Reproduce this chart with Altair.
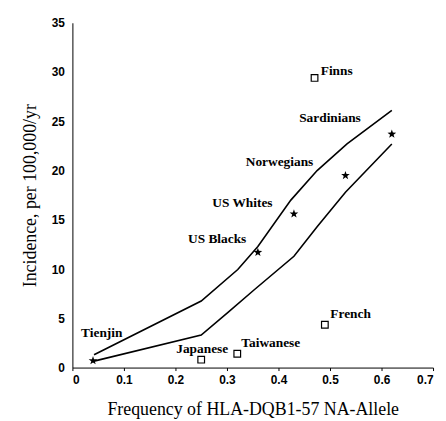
import altair as alt
import pandas as pd

# Populations (stars = on curve fit, squares = outliers)
star_names = ["Tienjin", "US Blacks", "US Whites", "Norwegians", "Sardinians"]
star_x = [0.04, 0.36, 0.43, 0.53, 0.62]
star_y = [0.7, 11.7, 15.6, 19.5, 23.7]

sq_names = ["Japanese", "Taiwanese", "French", "Finns"]
sq_x = [0.25, 0.32, 0.49, 0.47]
sq_y = [0.8, 1.4, 4.35, 29.4]

# Label anchor positions (data units)
label_names = ["Tienjin", "Japanese", "Taiwanese", "French", "Finns",
               "Sardinians", "Norwegians", "US Whites", "US Blacks"]
label_x = [0.057, 0.252, 0.385, 0.54, 0.513, 0.50, 0.402, 0.33, 0.281]
label_y = [3.5, 1.84, 2.5, 5.4, 30.1, 25.35, 20.9, 16.75, 13.07]

# Upper and lower bounding curves
upper_x = [0.042, 0.25, 0.321, 0.36, 0.424, 0.475, 0.533, 0.62]
upper_y = [1.3, 6.76, 9.95, 12.3, 17.0, 20.0, 22.7, 26.1]
lower_x = [0.04, 0.25, 0.302, 0.353, 0.43, 0.475, 0.53, 0.62]
lower_y = [0.63, 3.3, 5.6, 7.9, 11.3, 14.3, 17.8, 22.7]

stars = pd.DataFrame({"name": star_names, "x": star_x, "y": star_y})
squares = pd.DataFrame({"name": sq_names, "x": sq_x, "y": sq_y})
labels = pd.DataFrame({"name": label_names, "x": label_x, "y": label_y})
curves = pd.concat([
    pd.DataFrame({"curve": "upper", "x": upper_x, "y": upper_y, "o": range(len(upper_x))}),
    pd.DataFrame({"curve": "lower", "x": lower_x, "y": lower_y, "o": range(len(lower_x))}),
])

xs = alt.Scale(domain=[0, 0.7], nice=False)
ys = alt.Scale(domain=[0, 35], nice=False)

X = alt.X("x:Q", scale=xs, title="Frequency of HLA-DQB1-57 NA-Allele",
          axis=alt.Axis(values=[0, 0.1, 0.2, 0.3, 0.4, 0.5, 0.6, 0.7], format="~g",
                        grid=False, domainColor="black", tickColor="black", tickSize=3,
                        labelFont="Liberation Sans", labelFontWeight="bold", labelFontSize=12,
                        labelColor="black", labelPadding=4,
                        titleFont="Liberation Serif", titleFontSize=18, titleFontWeight="normal",
                        titleColor="black", titlePadding=15))
Y = alt.Y("y:Q", scale=ys, title="Incidence, per 100,000/yr",
          axis=alt.Axis(values=[0, 5, 10, 15, 20, 25, 30, 35], grid=False,
                        domainColor="black", tickSize=0,
                        labelFont="Liberation Sans", labelFontWeight="bold", labelFontSize=12,
                        labelColor="black", labelPadding=8,
                        titleFont="Liberation Serif", titleFontSize=18, titleFontWeight="normal",
                        titleColor="black", titlePadding=12))

star_path = "M0,-1L0.235,-0.324L0.951,-0.309L0.38,0.124L0.588,0.809L0,0.4L-0.588,0.809L-0.38,0.124L-0.951,-0.309L-0.235,-0.324Z"

lines = alt.Chart(curves).mark_line(color="black", strokeWidth=1.6).encode(
    x=X, y=Y, detail="curve:N", order="o:Q")
star_layer = alt.Chart(stars).mark_point(shape=star_path, filled=True, color="black", size=85, opacity=1).encode(x=X, y=Y)
sq_layer = alt.Chart(squares).mark_point(shape="square", filled=False, color="black", size=45, strokeWidth=1.2, opacity=1).encode(x=X, y=Y)
text_layer = alt.Chart(labels).mark_text(font="Liberation Serif", fontWeight="bold", fontSize=13.5,
                                         color="black", align="center", baseline="middle").encode(
    x=X, y=Y, text="name:N")

chart = alt.layer(lines, star_layer, sq_layer, text_layer).properties(
    width=364, height=348,
    autosize=alt.AutoSizeParams(type="none"),
    padding={"left": 65, "top": 13, "right": 5, "bottom": 52},
    background="white",
).configure_view(stroke=None)

chart.save("out.html", embed_options={"renderer": "svg", "actions": False})
